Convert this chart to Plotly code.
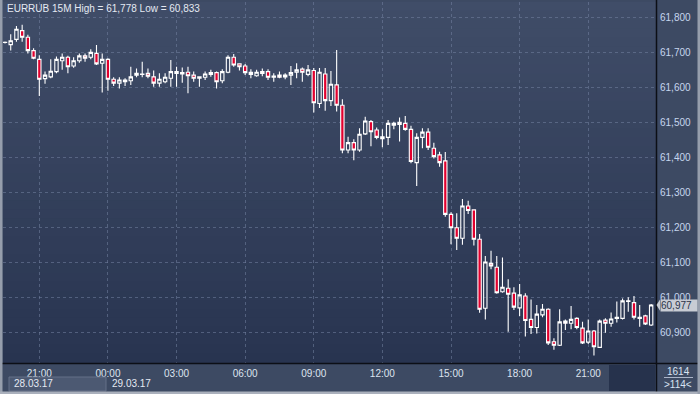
import pandas as pd
import plotly.graph_objects as go

# ---------------- data ----------------
start = "2017-03-28 19:30"
opens = [61.727,61.721,61.736,61.761,61.742,61.704,61.679,61.624,61.629,61.644,
         61.675,61.685,61.660,61.675,61.689,61.685,61.696,61.668,61.679,61.622,
         61.611,61.615,61.618,61.634,61.636,61.639,61.629,61.611,61.615,61.625,
         61.639,61.637,61.642,61.634,61.625,61.628,61.636,61.641,61.618,61.642,
         61.685,61.666,61.660,61.642,61.632,61.639,61.644,61.628,61.634,61.629,
         61.634,61.642,61.651,61.636,61.647,61.553,61.637,61.561,61.606,61.548,
         61.420,61.441,61.420,61.466,61.501,61.477,61.452,61.456,61.491,61.499,
         61.496,61.479,61.384,61.456,61.471,61.425,61.406,61.389,61.236,61.198,
         61.168,61.260,61.249,61.165,60.968,61.096,61.085,61.015,61.025,61.011,
         60.969,61.003,60.936,60.913,60.949,60.965,60.872,60.862,60.931,60.925,
         60.939,60.911,60.871,60.903,60.856,60.934,60.925,60.939,60.939,60.987,
         60.984,60.939,60.946,60.920]
highs = [61.730,61.751,61.774,61.778,61.749,61.711,61.691,61.644,61.679,61.687,
         61.696,61.689,61.685,61.696,61.696,61.708,61.720,61.696,61.682,61.628,
         61.628,61.625,61.658,61.653,61.672,61.653,61.647,61.639,61.639,61.677,
         61.658,61.656,61.658,61.644,61.631,61.644,61.649,61.644,61.651,61.691,
         61.694,61.668,61.666,61.651,61.649,61.653,61.651,61.639,61.644,61.639,
         61.660,61.668,61.656,61.663,61.654,61.654,61.654,61.646,61.706,61.565,
         61.458,61.451,61.482,61.515,61.506,61.484,61.479,61.506,61.501,61.513,
         61.517,61.489,61.468,61.482,61.482,61.441,61.415,61.414,61.242,61.239,
         61.280,61.275,61.251,61.180,61.117,61.132,61.117,61.113,61.051,61.028,
         61.037,61.011,60.993,60.977,60.980,60.968,60.882,60.965,60.936,60.974,
         60.942,60.929,60.936,60.906,60.936,60.939,60.956,60.987,60.996,60.999,
         61.003,60.977,60.949,60.980]
lows = [61.724,61.704,61.729,61.729,61.696,61.679,61.574,61.609,61.625,61.639,
        61.649,61.639,61.655,61.669,61.672,61.679,61.663,61.584,61.589,61.603,
        61.596,61.603,61.606,61.628,61.628,61.625,61.601,61.601,61.611,61.601,
        61.601,61.612,61.582,61.615,61.601,61.620,61.629,61.596,61.611,61.639,
        61.658,61.647,61.634,61.625,61.629,61.631,61.620,61.615,61.625,61.622,
        61.606,61.625,61.615,61.631,61.527,61.540,61.532,61.546,61.530,61.411,
        61.411,61.391,61.415,61.463,61.431,61.451,61.428,61.434,61.479,61.444,
        61.475,61.382,61.317,61.425,61.420,61.396,61.372,61.229,61.151,61.134,
        61.149,61.237,61.147,60.955,60.936,61.079,61.009,61.012,60.901,60.963,
        60.946,60.887,60.894,60.896,60.942,60.863,60.849,60.860,60.906,60.908,
        60.908,60.866,60.866,60.833,60.854,60.898,60.915,60.927,60.936,60.958,
        60.936,60.915,60.920,60.917]
closes = [61.728,61.732,61.765,61.742,61.704,61.682,61.622,61.634,61.645,61.679,
          61.685,61.658,61.675,61.689,61.682,61.699,61.666,61.679,61.622,61.611,
          61.620,61.620,61.629,61.639,61.637,61.631,61.611,61.622,61.628,61.644,
          61.644,61.641,61.632,61.625,61.629,61.637,61.641,61.615,61.644,61.685,
          61.663,61.658,61.641,61.636,61.642,61.644,61.628,61.631,61.628,61.634,
          61.641,61.649,61.642,61.649,61.555,61.642,61.561,61.608,61.548,61.420,
          61.441,61.420,61.465,61.503,61.472,61.456,61.458,61.496,61.496,61.493,
          61.479,61.387,61.456,61.471,61.428,61.401,61.384,61.236,61.198,61.168,
          61.260,61.247,61.165,60.965,61.100,61.089,61.012,61.028,61.008,60.971,
          61.006,60.933,60.913,60.951,60.965,60.869,60.862,60.929,60.925,60.936,
          60.913,60.869,60.903,60.858,60.931,60.925,60.937,60.942,60.989,60.989,
          60.942,60.942,60.923,60.977]

y_ticks = [60.9, 61.0, 61.1, 61.2, 61.3, 61.4, 61.5, 61.6, 61.7, 61.8]
y_tick_labels = ["60,900", "61,000", "61,100", "61,200", "61,300",
                 "61,400", "61,500", "61,600", "61,700", "61,800"]
x_tick_times = ["2017-03-28 21:00", "2017-03-29 00:00", "2017-03-29 03:00",
                "2017-03-29 06:00", "2017-03-29 09:00", "2017-03-29 12:00",
                "2017-03-29 15:00", "2017-03-29 18:00", "2017-03-29 21:00"]
x_tick_labels = ["21:00", "00:00", "03:00", "06:00", "09:00",
                 "12:00", "15:00", "18:00", "21:00"]
date_labels = ["28.03.17", "29.03.17"]
title_text = "EURRUB 15M High = 61,778 Low = 60,833"
last_price = 60.977
last_label = "60,977"
info_top = "1614"
info_bottom = ">114<"

times = pd.date_range(start, periods=len(opens), freq="15min")

# ---------------- layout helpers ----------------
W, H = 700, 394
L, R, T, B = 3, 44, 2, 31
PW, PH = W - L - R, H - T - B
FONT = "Liberation Sans, Arial"
FS = 10


def px(x):
    return (x - L) / PW


def py(y):
    return (H - B - y) / PH


fig = go.Figure()
fig.add_trace(go.Candlestick(
    x=times, open=opens, high=highs, low=lows, close=closes,
    increasing=dict(line=dict(color="#ffffff", width=1.1), fillcolor="rgba(0,0,0,0)"),
    decreasing=dict(line=dict(color="#ffffff", width=1.1), fillcolor="#e2002e"),
    whiskerwidth=0, hoverinfo="skip", showlegend=False,
))

shapes = []
# gradient background of the plot area
N = 40
top_c, bot_c = (64, 77, 104), (40, 52, 80)
for k in range(N):
    t = (k + 0.5) / N
    c = tuple(round(top_c[j] + (bot_c[j] - top_c[j]) * t) for j in range(3))
    shapes.append(dict(type="rect", xref="paper", yref="paper", x0=0, x1=1,
                       y0=1 - (k + 1) / N, y1=1 - k / N + 0.001,
                       fillcolor="rgb(%d,%d,%d)" % c, line_width=0, layer="below"))

# separators
shapes.append(dict(type="line", xref="paper", yref="paper", x0=px(656.5), x1=px(656.5),
                   y0=py(394), y1=py(0), line=dict(color="#0c0f16", width=1.5)))
shapes.append(dict(type="line", xref="paper", yref="paper", x0=px(0), x1=px(700),
                   y0=py(363.5), y1=py(363.5), line=dict(color="#0c0f16", width=1.5)))
# dark box bottom right of time axis
shapes.append(dict(type="rect", xref="paper", yref="paper", x0=px(609), x1=px(655.5),
                   y0=py(391), y1=py(365), fillcolor="rgb(38,50,76)", line_width=0))
# date box
shapes.append(dict(type="rect", xref="paper", yref="paper", x0=px(9), x1=px(106),
                   y0=py(391), y1=py(377), fillcolor="rgb(76,89,114)",
                   line=dict(color="rgb(100,112,136)", width=1)))
# window frame
shapes.append(dict(type="rect", xref="paper", yref="paper", x0=px(0), x1=px(2.5),
                   y0=py(394), y1=py(0), fillcolor="rgb(150,158,172)", line_width=0))
shapes.append(dict(type="rect", xref="paper", yref="paper", x0=px(0), x1=px(700),
                   y0=py(394), y1=py(391.5), fillcolor="rgb(170,176,188)", line_width=0))
shapes.append(dict(type="rect", xref="paper", yref="paper", x0=px(697.5), x1=px(700),
                   y0=py(394), y1=py(0), fillcolor="rgb(150,158,172)", line_width=0))
# line under info number
shapes.append(dict(type="line", xref="paper", yref="paper", x0=px(664), x1=px(693),
                   y0=py(377.5), y1=py(377.5), line=dict(color="rgb(170,180,200)", width=1)))
# price marker arrow
shapes.append(dict(type="path", xref="paper", yref="y",
                   path="M %f,%f L %f,%f L %f,%f Z" % (
                       px(660), last_price + 0.016, px(660), last_price - 0.016,
                       px(656.5), last_price),
                   fillcolor="#c8ccd4", line_width=0))

annotations = [
    dict(text=title_text, xref="paper", yref="paper", x=px(5), y=py(8.5),
         xanchor="left", yanchor="middle", showarrow=False,
         font=dict(size=FS, color="#e4e9f2", family=FONT)),
    dict(text=last_label, xref="paper", yref="y", x=px(659.5), y=last_price,
         xanchor="left", yanchor="middle", showarrow=False, bgcolor="#c8ccd4",
         width=36, height=11, borderpad=0, align="left",
         font=dict(size=FS, color="#2b3448", family=FONT)),
    dict(text=info_top, xref="paper", yref="paper", x=px(678), y=py(371),
         xanchor="center", yanchor="middle", showarrow=False,
         font=dict(size=FS, color="#d8e2f2", family=FONT)),
    dict(text=info_bottom, xref="paper", yref="paper", x=px(678), y=py(384),
         xanchor="center", yanchor="middle", showarrow=False,
         font=dict(size=FS, color="#d8e2f2", family=FONT)),
    dict(text=date_labels[0], xref="paper", yref="paper", x=px(12), y=py(383.5),
         xanchor="left", yanchor="middle", showarrow=False,
         font=dict(size=FS, color="#e4e9f2", family=FONT)),
    dict(text=date_labels[1], xref="paper", yref="paper", x=px(110), y=py(383.5),
         xanchor="left", yanchor="middle", showarrow=False,
         font=dict(size=FS, color="#e4e9f2", family=FONT)),
]

step = pd.Timedelta(minutes=15)
fig.update_layout(
    width=W, height=H, margin=dict(l=L, r=R, t=T, b=B),
    paper_bgcolor="rgb(61,74,99)", plot_bgcolor="rgb(52,64,91)",
    shapes=shapes, annotations=annotations, showlegend=False,
    hovermode=False, boxgap=0.25, boxgroupgap=0.22,
    xaxis=dict(range=[times[0] - 0.35 * step, times[0] + 113.85 * step],
               rangeslider=dict(visible=False), tickvals=x_tick_times,
               ticktext=x_tick_labels, showgrid=True, griddash="3px,3px",
               gridcolor="rgba(115,130,160,0.55)", gridwidth=1,
               zeroline=False, showline=False, ticks="", ticklabelstandoff=3,
               tickfont=dict(size=FS, color="#dde4ef", family=FONT)),
    yaxis=dict(range=[61.8486 - 363 / 350, 61.8486 - 2 / 350],
               side="right", tickvals=y_ticks, ticktext=y_tick_labels,
               showgrid=True, griddash="3px,3px", gridcolor="rgba(115,130,160,0.55)",
               gridwidth=1, zeroline=False, showline=False, ticks="",
               ticklabelstandoff=3,
               tickfont=dict(size=FS, color="#c6d6ee", family=FONT)),
)
fig.write_html("out.html")
